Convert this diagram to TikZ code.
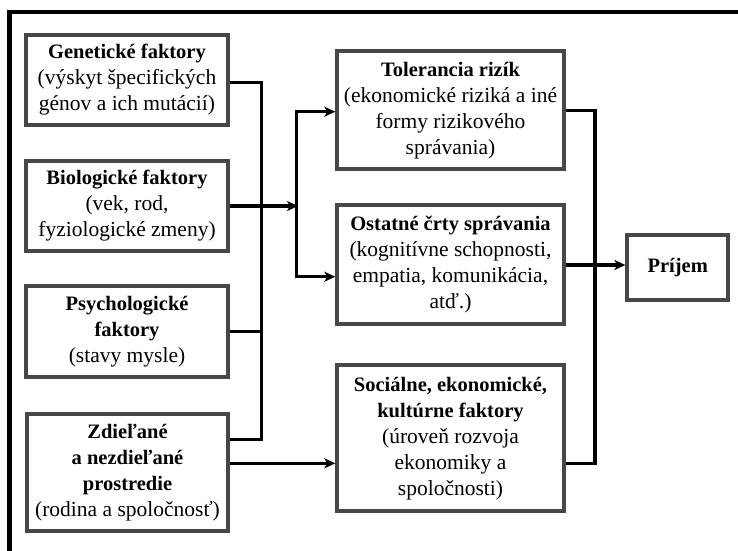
\documentclass[tikz,border=0pt]{standalone}
\usepackage{fontspec}
\setmainfont{Liberation Serif}
\usetikzlibrary{arrows.meta}
\newcommand\boxhead[1]{{\fontsize{20.5}{26}\selectfont\bfseries #1}}
\tikzset{
  boxnode/.style={draw=black!72, line width=4pt, fill=white, align=center, inner sep=1pt,
    font=\fontsize{21.5}{26}\selectfont},
  conn/.style={draw=black, line width=3.2pt},
  arr/.style={-{Stealth[length=11pt,width=10pt,inset=3pt]}},
  frameline/.style={draw=black, line width=4.5pt}
}
\begin{document}
\begin{tikzpicture}[x=1pt,y=-1pt]
\useasboundingbox (0,0) rectangle (738,550);
\fill[white] (0,0) rectangle (738,550);
\draw[frameline] (9.5,552) -- (9.5,12) -- (740,12);

\node[boxnode, minimum width=202pt, minimum height=90.6pt] (gen) at (127,80)
  {\boxhead{Genetické faktory}\\(výskyt špecifických\\génov a ich mutácií)};
\node[boxnode, minimum width=202pt, minimum height=89.4pt] (bio) at (127,206)
  {\boxhead{Biologické faktory}\\(vek, rod,\\fyziologické zmeny)};
\node[boxnode, minimum width=202pt, minimum height=91pt] (psy) at (127,331.7)
  {\boxhead{Psychologické}\\\boxhead{faktory}\\(stavy mysle)};
\node[boxnode, minimum width=201pt, minimum height=117.6pt] (zdi) at (127.5,472.5)
  {\boxhead{Zdieľané}\\\boxhead{a nezdieľané}\\\boxhead{prostredie}\\(rodina a spoločnosť)};
\node[boxnode, minimum width=226.4pt, minimum height=118pt] (tol) at (450.5,110.3)
  {\boxhead{Tolerancia rizík}\\(ekonomické riziká a iné\\formy rizikového\\správania)};
\node[boxnode, minimum width=226.4pt, minimum height=118.7pt] (ost) at (450.5,264.7)
  {\boxhead{Ostatné črty správania}\\(kognitívne schopnosti,\\empatia, komunikácia,\\atď.)};
\node[boxnode, minimum width=226.4pt, minimum height=146pt] (soc) at (450.5,438.3)
  {\boxhead{Sociálne, ekonomické,}\\\boxhead{kultúrne faktory}\\(úroveň rozvoja\\ekonomiky a\\spoločnosti)};
\node[boxnode, minimum width=100.7pt, minimum height=65pt] (pri) at (677.7,267.8)
  {\boxhead{Príjem}};

% left collector
\coordinate (ja) at (261.7,82.7);
\coordinate (jb) at (261.7,439.3);
\draw[conn] (gen.east |- ja) -- (ja) -- (jb) -- (zdi.east |- jb);
\draw[conn] (psy.east) -- (psy.east -| ja);
% biological to splitter
\coordinate (sp) at (298,206);
\draw[conn,arr] (bio.east) -- (sp);
\coordinate (sa) at (296.7,111.7);
\coordinate (sb) at (296.7,276.7);
\draw[conn] (sa) -- (sb);
\draw[conn,arr] ([xshift=-1.6pt]sa) -- (tol.west |- sa);
\draw[conn,arr] ([xshift=-1.6pt]sb) -- (ost.west |- sb);
% shared environment to social
\coordinate (zr) at (333,463.3);
\draw[conn,arr] (zdi.east |- zr) -- (soc.west |- zr);
% right collector
\coordinate (ra) at (595,110.3);
\coordinate (rb) at (595,463.3);
\draw[conn] (tol.east |- ra) -- (ra) -- (rb) -- (soc.east |- rb);
\coordinate (pr) at (600,265);
\draw[conn,arr] (ost.east |- pr) -- (pri.west |- pr);
\end{tikzpicture}
\end{document}
